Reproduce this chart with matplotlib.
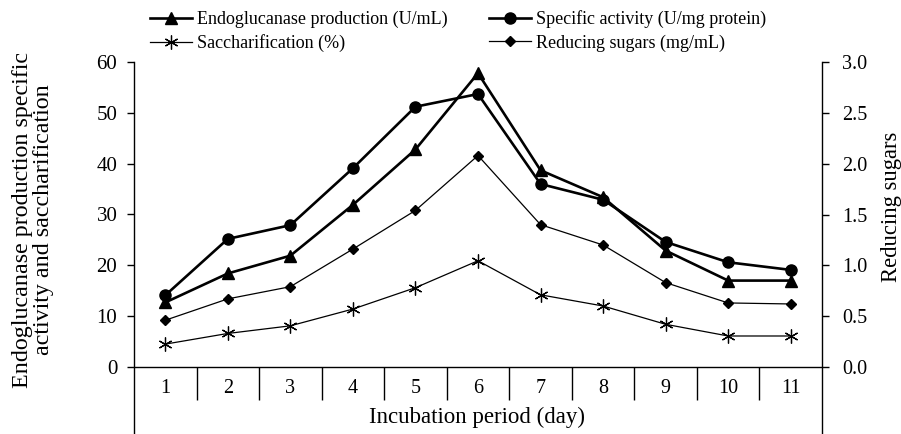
import numpy as np
import matplotlib
matplotlib.use("Agg")
import matplotlib.pyplot as plt

plt.rcParams['font.family'] = ['Liberation Serif', 'DejaVu Serif']

# data
days = [1, 2, 3, 4, 5, 6, 7, 8, 9, 10, 11]
endo = [12.7, 18.4, 21.9, 31.9, 42.8, 57.8, 38.7, 33.4, 22.9, 17.0, 17.0]
spec = [14.1, 25.2, 27.9, 39.1, 51.2, 53.7, 36.0, 32.9, 24.6, 20.6, 19.1]
sacch = [4.5, 6.6, 8.1, 11.4, 15.6, 20.9, 14.2, 12.0, 8.4, 6.1, 6.1]
sugars = [0.46, 0.67, 0.79, 1.16, 1.54, 2.08, 1.40, 1.20, 0.83, 0.63, 0.62]

fig = plt.figure(figsize=(9.01, 4.34), dpi=100)
ax = fig.add_axes([134 / 901, 0.0, 688 / 901, 1 - 62 / 434])
ymin = -(434 - 367) / (305 / 60)
ax.set_ylim(ymin, 60)
ax.set_xlim(0.5, 11.5)

x = np.array(days)
l1, = ax.plot(x, endo, color='black', lw=1.9, marker='^', ms=8.5, label='Endoglucanase production (U/mL)')
l2, = ax.plot(x, spec, color='black', lw=1.9, marker='o', ms=8, label='Specific activity (U/mg protein)')
l3, = ax.plot(x, sacch, color='black', lw=0.9, marker=(6, 2, 0), ms=10, mew=0.9,
              label='Saccharification (%)')

ax2 = ax.twinx()
ax2.set_ylim(ymin / 20, 3.0)
l4, = ax2.plot(x, sugars, color='black', lw=0.9, marker='D', ms=5.5, label='Reducing sugars (mg/mL)')

for a in (ax, ax2):
    a.spines['top'].set_visible(False)
    a.spines['bottom'].set_visible(False)
    a.spines['left'].set_linewidth(1.0)
    a.spines['right'].set_linewidth(1.0)
    a.set_xticks([])
    a.patch.set_visible(False)

ax.spines['right'].set_visible(False)
ax2.spines['left'].set_visible(False)

ax.set_yticks(np.arange(0, 61, 10))
ax2.set_yticks(np.arange(0, 3.01, 0.5))
ax2.set_yticklabels(['%.1f' % v for v in np.arange(0, 3.01, 0.5)])
ax.tick_params(axis='y', direction='out', length=5, width=1.0, labelsize=15, pad=7)
ax2.tick_params(axis='y', direction='out', length=5, width=1.0, labelsize=14.5, pad=9.5)

# category axis at zero
ax.axhline(0, color='black', lw=1.0)
ax.vlines(np.arange(1.5, 11, 1), -6.5, 0, color='black', lw=1.0)
for d in days:
    ax.text(d, -4.2, str(d), ha='center', va='center', fontsize=14.5)

fig.text(477 / 901, 1 - 423 / 434, 'Incubation period (day)', ha='center', va='baseline', fontsize=16.5)
fig.text(33 / 901, 1 - 220 / 434, 'Endoglucanase production specific\nactivity and saccharification',
         ha='center', va='center', rotation=90, fontsize=17.3, linespacing=1.0)
fig.text(892 / 901, 1 - 207 / 434, 'Reducing sugars', ha='center', va='center', rotation=90, fontsize=16.3)

fig.legend([l1, l3, l2, l4],
           [l1.get_label(), l3.get_label(), l2.get_label(), l4.get_label()],
           ncol=2, loc='upper left', bbox_to_anchor=(150 / 901, 1 - 10 / 434),
           frameon=False, fontsize=13, handlelength=2.3, handletextpad=0.3,
           columnspacing=2.3, borderpad=0, labelspacing=0.35, borderaxespad=0)

fig.savefig('out.png', dpi=100)
